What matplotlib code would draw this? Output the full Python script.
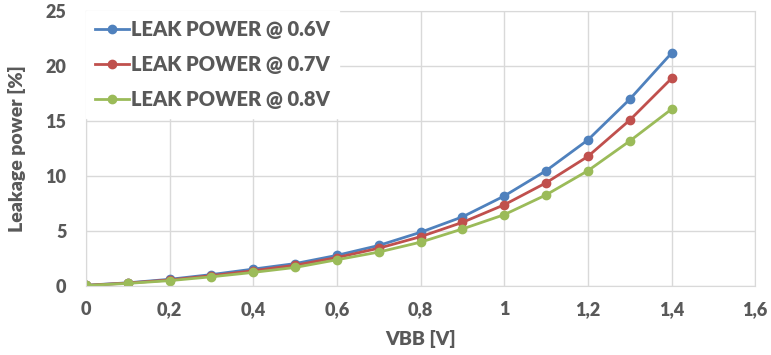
import matplotlib.pyplot as plt
from matplotlib.ticker import FuncFormatter, MultipleLocator

# Data
vbb = [0.0, 0.1, 0.2, 0.3, 0.4, 0.5, 0.6, 0.7, 0.8, 0.9, 1.0, 1.1, 1.2, 1.3, 1.4]
leak_06 = [0.08, 0.30, 0.62, 1.05, 1.55, 2.05, 2.8, 3.7, 4.9, 6.3, 8.2, 10.5, 13.3, 17.0, 21.2]
leak_07 = [0.07, 0.28, 0.56, 0.95, 1.40, 1.90, 2.6, 3.45, 4.5, 5.8, 7.4, 9.4, 11.8, 15.1, 18.9]
leak_08 = [0.06, 0.25, 0.50, 0.85, 1.25, 1.70, 2.4, 3.1, 4.0, 5.2, 6.5, 8.3, 10.5, 13.2, 16.1]
labels = ['LEAK POWER @ 0.6V', 'LEAK POWER @ 0.7V', 'LEAK POWER @ 0.8V']
colors = ['#4F81BD', '#C0504D', '#9BBB59']

plt.rcParams['font.family'] = ['Lato', 'DejaVu Sans']
text_color = '#595959'
grid_color = '#D9D9D9'

fig = plt.figure(figsize=(7.71, 3.55), dpi=100)
ax = fig.add_axes([0.1115, 0.194, 0.868, 0.774])

for series, label, color in zip([leak_06, leak_07, leak_08], labels, colors):
    ax.plot(vbb, series, color=color, linewidth=2, marker='o', markersize=6, label=label)

ax.set_xlim(0, 1.6)
ax.set_ylim(0, 25)
ax.xaxis.set_major_locator(MultipleLocator(0.2))
ax.yaxis.set_major_locator(MultipleLocator(5))

def comma_fmt(v, pos):
    # decimal comma like the original
    s = f'{v:.1f}'.rstrip('0').rstrip('.')
    return s.replace('.', ',')

ax.xaxis.set_major_formatter(FuncFormatter(comma_fmt))
ax.grid(True, color=grid_color, linewidth=1)
ax.set_axisbelow(True)
for spine in ax.spines.values():
    spine.set_color(grid_color)
ax.tick_params(length=0, labelsize=13, colors=text_color)
ax.tick_params(axis='x', pad=11)
ax.tick_params(axis='y', pad=14)
for lbl in ax.get_xticklabels() + ax.get_yticklabels():
    lbl.set_fontweight('heavy')

ax.set_xlabel('VBB [V]', fontsize=14, fontweight='heavy', color=text_color, labelpad=8)
ax.set_ylabel('Leakage power [%]', fontsize=14, fontweight='heavy', color=text_color, labelpad=14)

leg = ax.legend(loc='upper left', fontsize=14.5, frameon=True, fancybox=False,
                borderaxespad=0.0, handlelength=1.7, handletextpad=0.1,
                labelspacing=0.78, borderpad=0.45)
leg.get_frame().set_facecolor('white')
leg.get_frame().set_edgecolor('white')
leg.get_frame().set_alpha(1)
for t in leg.get_texts():
    t.set_color(text_color)
    t.set_fontweight('heavy')

fig.savefig('out.png', dpi=100)
